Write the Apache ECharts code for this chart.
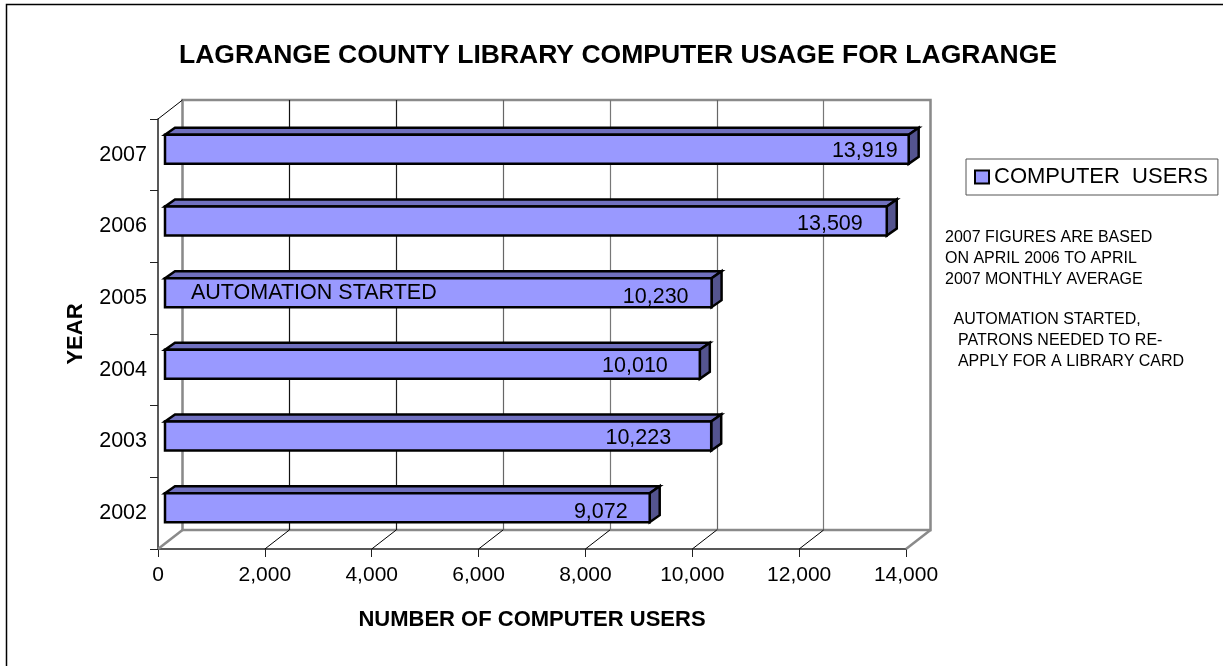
<!DOCTYPE html>
<html><head><meta charset="utf-8">
<style>html,body{margin:0;padding:0;background:#fff}#c{width:1223px;height:666px}</style>
<script src="https://cdn.jsdelivr.net/npm/echarts@6/dist/echarts.min.js"></script>
</head><body><div id="c"></div>
<script>
const years = ['2002','2003','2004','2005','2006','2007'];
const users = [9072,10223,10010,10230,13509,13919];
const barNotes = ['','','','AUTOMATION STARTED','',''];
const xTicks = [0,2000,4000,6000,8000,10000,12000,14000];
const seriesName = 'COMPUTER  USERS';
const chartTitle = 'LAGRANGE COUNTY LIBRARY COMPUTER USAGE FOR LAGRANGE';
const xTitle = 'NUMBER OF COMPUTER USERS';
const yTitle = 'YEAR';
const note1 = '2007 FIGURES ARE BASED\nON APRIL 2006 TO APRIL\n2007 MONTHLY AVERAGE';
const note2 = 'AUTOMATION STARTED,\n PATRONS NEEDED TO RE-\n APPLY FOR A LIBRARY CARD';

// layout / style (not data)
const labelInset = [22,40,32,23,24,11];      // px from the bar end to the value label
const labelDrop  = [3,1.5,1,3,2,1];
const F = 'Liberation Sans, Arial, sans-serif';
const wall = {dx:24.5, dy:-19};
const front = {left:158, top:119, width:748, height:430};
const barShift = {dx:7, dy:-5.5}, barDepth = {dx:10, dy:-7}, barRatio = 0.405;
const C = {face:'#9999FF', top:'#7070BF', side:'#54548F', ink:'#000', wall:'#8a8a8a'};
const gridColors = ['#8a8a8a','#111','#222','#666','#777','#666','#777','#8a8a8a'];

function renderBar(params, api){
  const v = api.value(0), i = api.value(1);
  const p0 = api.coord([0,i]), p1 = api.coord([v,i]);
  const h = api.size([0,1])[1]*barRatio;
  const x0 = p0[0]+barShift.dx, x1 = p1[0]+barShift.dx;
  const y0 = p0[1]+barShift.dy-h/2, y1 = y0+h;
  const dx = barDepth.dx, dy = barDepth.dy;
  const line = {stroke:C.ink, lineWidth:2.5, lineJoin:'miter'};
  const kids = [
    {type:'polygon', shape:{points:[[x0,y0],[x0+dx,y0+dy],[x1+dx,y0+dy],[x1,y0]]}, style:{fill:C.top,...line}},
    {type:'polygon', shape:{points:[[x1,y0],[x1+dx,y0+dy],[x1+dx,y1+dy],[x1,y1]]}, style:{fill:C.side,...line}},
    {type:'rect', shape:{x:x0,y:y0,width:x1-x0,height:h}, style:{fill:C.face,...line}},
    {type:'text', style:{x:x1-labelInset[i], y:y0+h/2+labelDrop[i]+1, text:v.toLocaleString('en-US'),
      font:'21.5px '+F, fill:'#000', align:'right', verticalAlign:'middle'}}
  ];
  if(barNotes[i]) kids.push({type:'text', style:{x:x0+26, y:y0+h/2, text:barNotes[i],
      font:'21.5px '+F, fill:'#000', align:'left', verticalAlign:'middle'}});
  return {type:'group', children:kids};
}
function renderFloor(params, api){
  const v = api.value(0), i = params.dataIndex;
  const p = api.coord([v,0]);
  const y = front.top+front.height;
  const edge = i===0 || i===xTicks.length-1;
  return {type:'line', shape:{x1:p[0],y1:y,x2:p[0]+wall.dx,y2:y+wall.dy},
    style:{stroke:edge?C.wall:'#000', lineWidth:edge?2.5:1}};
}
function renderCorner(params, api){
  return {type:'line', shape:{x1:front.left,y1:front.top,x2:front.left+wall.dx,y2:front.top+wall.dy},
    style:{stroke:'#000', lineWidth:1}};
}
const chart = echarts.init(document.getElementById('c'), null, {renderer:'canvas'});
chart.setOption({
  animation:false,
  backgroundColor:'#fff',
  title:[
    {text:chartTitle, left:179, top:42, textStyle:{fontFamily:F,fontSize:26.5,fontWeight:'bold',color:'#000'}, padding:0},
    {text:note1, left:945, top:227, padding:0, textStyle:{fontFamily:F,fontSize:16,fontWeight:'normal',color:'#000',lineHeight:21}},
    {text:note2, left:953.5, top:309, padding:0, textStyle:{fontFamily:F,fontSize:16,fontWeight:'normal',color:'#000',lineHeight:21}}
  ],
  legend:{data:[seriesName], left:966, top:159, padding:[7,10,7,8], itemGap:0, itemWidth:14, itemHeight:13, icon:'rect', itemStyle:{color:C.face,borderColor:'#000',borderWidth:2},
    borderColor:'#555', borderWidth:1, backgroundColor:'#fff',
    textStyle:{fontFamily:F,fontSize:22,color:'#000'}},
  grid:[
    {...front, containLabel:false},
    {left:front.left+wall.dx, top:front.top+wall.dy, width:front.width, height:front.height, show:true, borderColor:C.wall, borderWidth:2.5, backgroundColor:'transparent'}
  ],
  xAxis:[
    {gridIndex:0,type:'value',min:0,max:14000,interval:2000,
     name:xTitle,nameLocation:'middle',nameGap:60,nameTextStyle:{fontFamily:F,fontSize:22,fontWeight:'bold',color:'#000'},
     axisLine:{show:true,lineStyle:{color:'#222',width:1.5}},axisTick:{show:true,length:8,lineStyle:{color:'#222'}},
     axisLabel:{margin:16,fontFamily:F,fontSize:21,color:'#000',showMinLabel:true,showMaxLabel:true,formatter:v=>v.toLocaleString('en-US')},
     splitLine:{show:false}},
    {gridIndex:1,type:'value',min:0,max:14000,interval:2000,axisLine:{show:false},axisTick:{show:false},axisLabel:{show:false},
     splitLine:{show:true,lineStyle:{color:gridColors,width:1.2}}}
  ],
  yAxis:[
    {gridIndex:0,type:'category',data:years,
     name:yTitle,nameLocation:'middle',nameGap:71,nameRotate:90,nameTextStyle:{fontFamily:F,fontSize:22,fontWeight:'bold',color:'#000'},
     axisLine:{show:true,lineStyle:{color:'#222',width:1.5}},axisTick:{show:true,length:8,alignWithLabel:false,lineStyle:{color:'#222'}},
     axisLabel:{margin:11,fontFamily:F,fontSize:21.5,color:'#000'}},
    {gridIndex:1,type:'category',data:years,axisLine:{show:false},axisTick:{show:false},axisLabel:{show:false},splitLine:{show:false}}
  ],
  series:[
    {type:'custom',name:'floor',xAxisIndex:0,yAxisIndex:0,z:1,silent:true,renderItem:renderFloor,data:xTicks.map(v=>[v])},
    {type:'custom',name:'corner',xAxisIndex:0,yAxisIndex:0,z:1,silent:true,renderItem:renderCorner,data:[[0]]},
    {type:'custom',name:seriesName,xAxisIndex:0,yAxisIndex:0,z:5,renderItem:renderBar,
     itemStyle:{color:C.face},encode:{x:0,y:1},data:users.map((v,i)=>[v,i])}
  ],
  graphic:[
    {type:'polyline',z:10,shape:{points:[[6.5,666],[6.5,4.5],[1223,4.5]]},style:{stroke:'#000',lineWidth:1.5,fill:null}}
  ]
});
</script></body></html>
